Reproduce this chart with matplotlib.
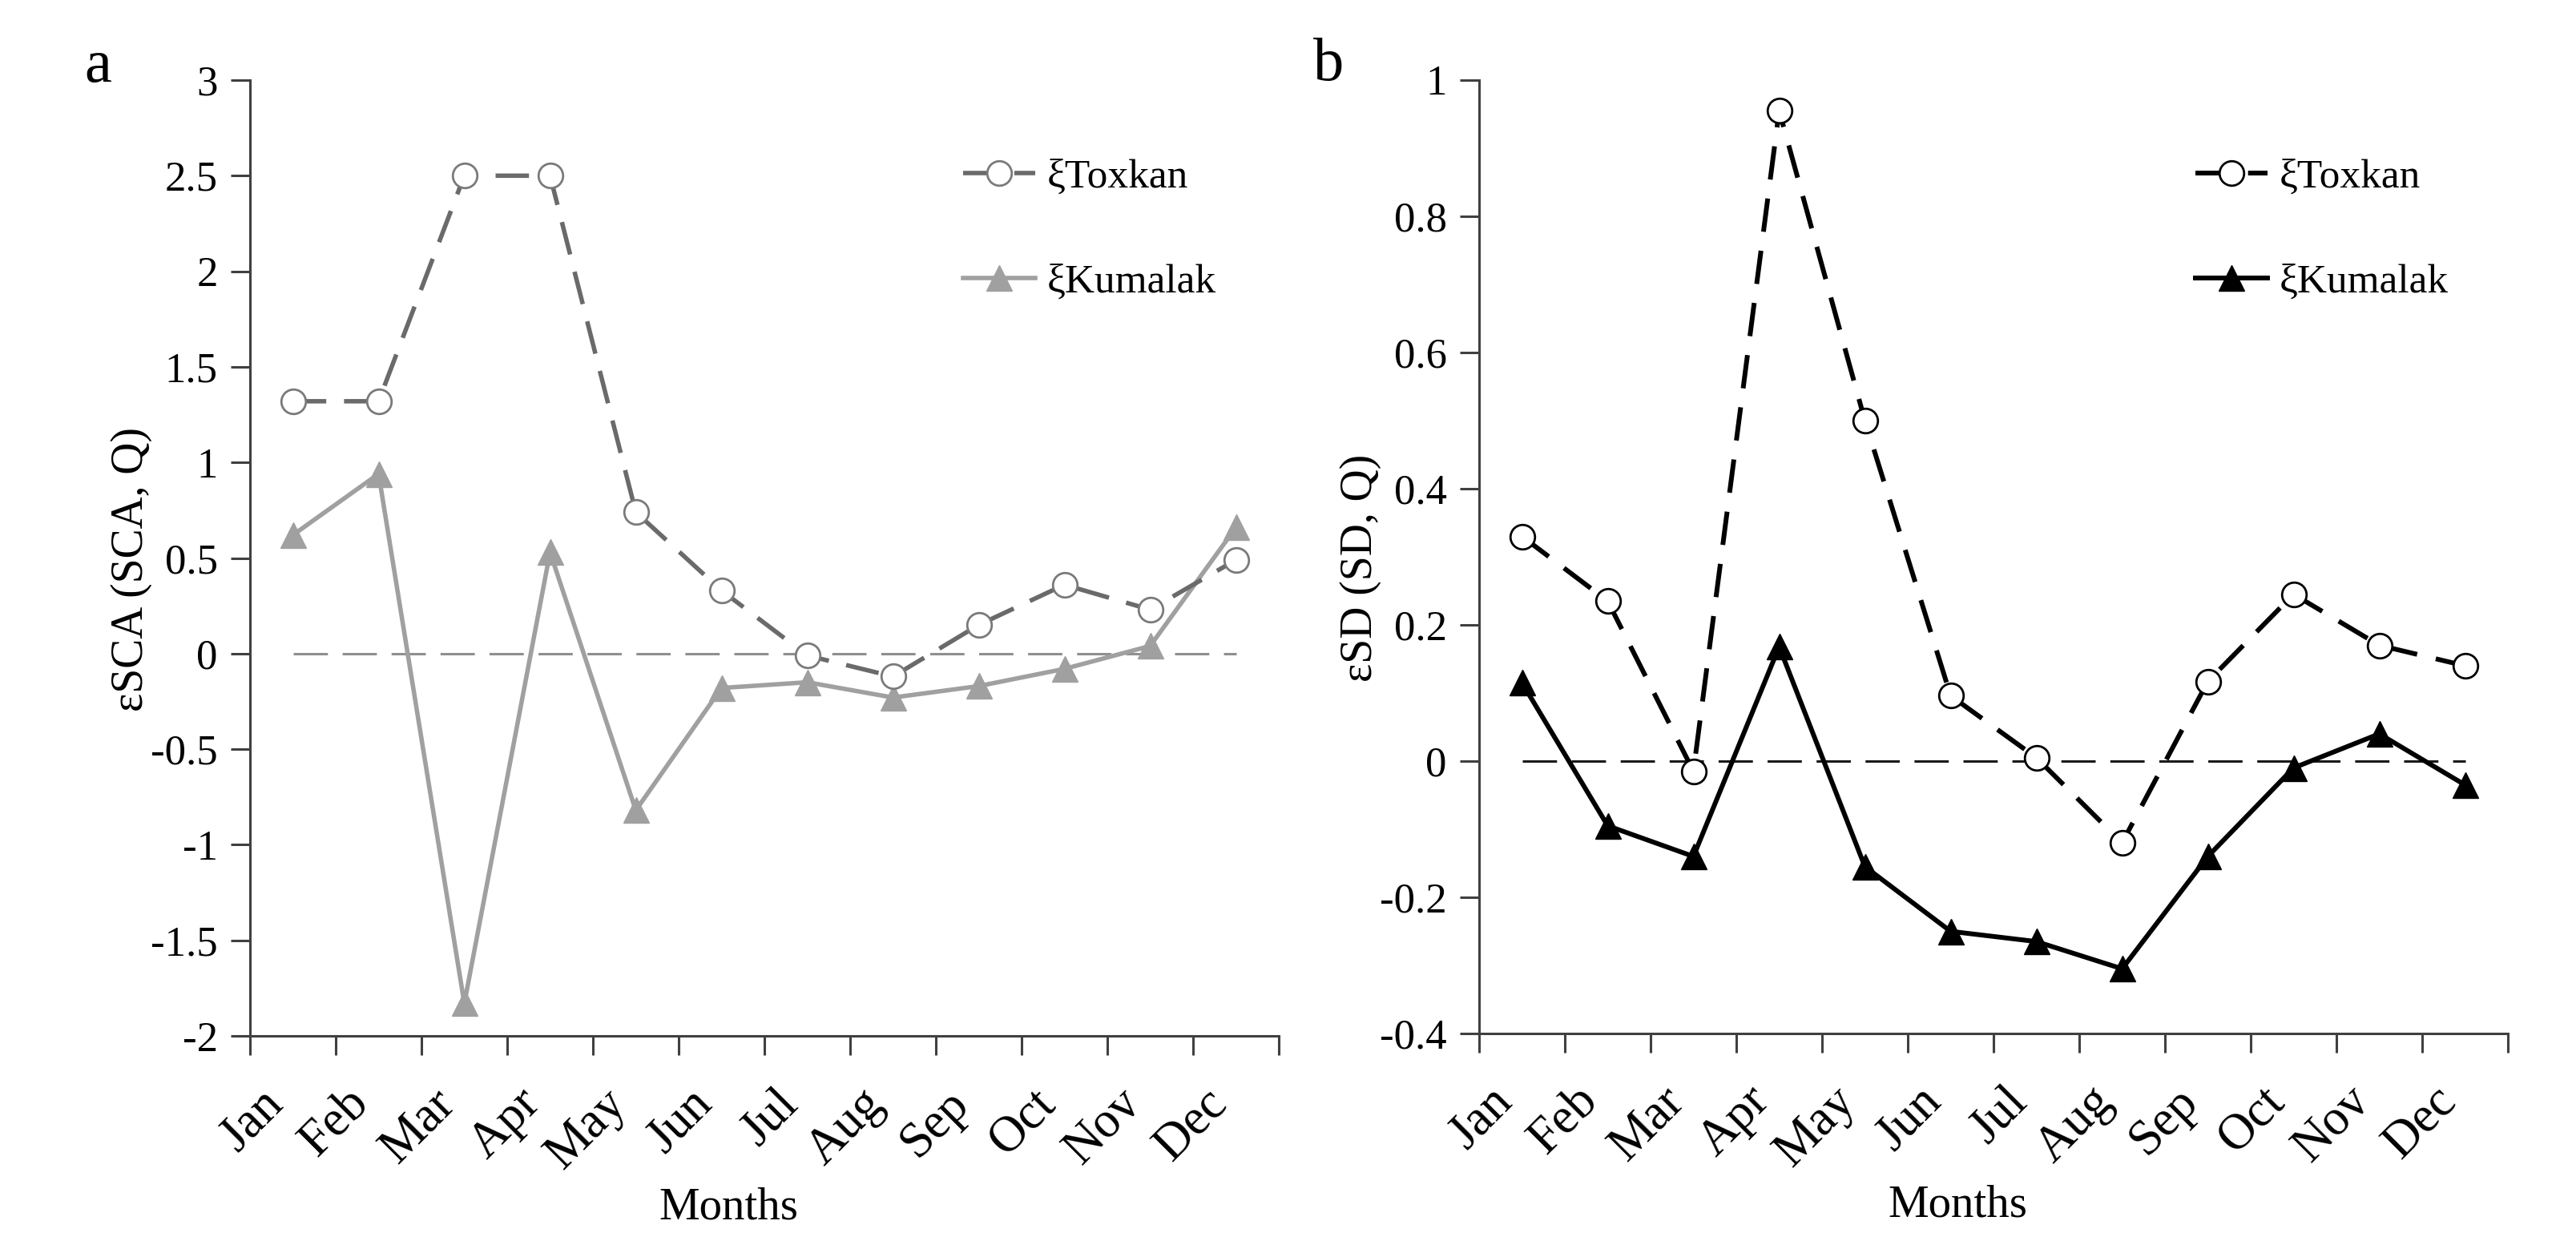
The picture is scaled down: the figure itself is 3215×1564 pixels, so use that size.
import matplotlib
matplotlib.use('Agg')
import matplotlib.pyplot as plt
import numpy as np

# ---------------- data ----------------
months = ['Jan', 'Feb', 'Mar', 'Apr', 'May', 'Jun', 'Jul', 'Aug', 'Sep', 'Oct', 'Nov', 'Dec']

sca_toxkan = [1.32, 1.32, 2.50, 2.50, 0.74, 0.33, -0.01, -0.12, 0.15, 0.36, 0.23, 0.49]
sca_kumalak = [0.62, 0.94, -1.83, 0.53, -0.82, -0.18, -0.15, -0.23, -0.17, -0.08, 0.04, 0.66]

sd_toxkan = [0.33, 0.235, -0.015, 0.955, 0.50, 0.096, 0.005, -0.12, 0.117, 0.245, 0.17, 0.14]
sd_kumalak = [0.115, -0.095, -0.14, 0.168, -0.155, -0.25, -0.265, -0.305, -0.14, -0.01, 0.04, -0.035]

yticks_a = [-2, -1.5, -1, -0.5, 0, 0.5, 1, 1.5, 2, 2.5, 3]
ylabels_a = ['-2', '-1.5', '-1', '-0.5', '0', '0.5', '1', '1.5', '2', '2.5', '3']
yticks_b = [-0.4, -0.2, 0, 0.2, 0.4, 0.6, 0.8, 1]
ylabels_b = ['-0.4', '-0.2', '0', '0.2', '0.4', '0.6', '0.8', '1']

series_names = ['\u03beToxkan', '\u03beKumalak']
ylabel_a = '\u03b5SCA (SCA, Q)'
ylabel_b = '\u03b5SD (SD, Q)'
xlabel = 'Months'

# ---------------- style ----------------
plt.rcParams['font.family'] = ['Liberation Serif', 'DejaVu Serif']

W, H = 3215, 1564
fig = plt.figure(figsize=(W / 100, H / 100), dpi=100)

spine_col = '#404040'
x = np.arange(1, len(months) + 1)

def setup(ax, yticks, ylabels, ylabel):
    for s in ['top', 'right']:
        ax.spines[s].set_visible(False)
    for s in ['left', 'bottom']:
        ax.spines[s].set_color(spine_col)
        ax.spines[s].set_linewidth(2.2)
    ax.set_xlim(0.5, len(months) + 0.5)
    ax.set_ylim(yticks[0], yticks[-1])
    ax.set_yticks(yticks)
    ax.set_yticklabels(ylabels)
    ax.tick_params(axis='y', direction='out', length=17, width=2.2, color=spine_col,
                   labelsize=38, pad=12)
    # boundaries as major ticks, months labelled at centres
    ax.set_xticks(np.arange(0.5, len(months) + 1.0, 1.0))
    ax.set_xticklabels([])
    ax.tick_params(axis='x', which='major', direction='out', length=17, width=2.2,
                   color=spine_col)
    ax.set_xticks(x, minor=True)
    ax.set_xticklabels(months, minor=True, rotation=45, ha='right', va='top',
                       rotation_mode='default')
    ax.tick_params(axis='x', which='minor', length=0, labelsize=45, pad=40)
    ax.set_ylabel(ylabel, fontsize=40)
    ax.yaxis.set_label_coords(-0.095, 0.488)
    ax.set_xlabel(xlabel, fontsize=41)
    ax.xaxis.set_label_coords(0.465, -0.158)
    ax.xaxis.label.set_va('top')

# ---------------- panel a ----------------
ax1 = fig.add_axes([312 / W, 1 - 1293 / H, 1284 / W, 1193 / H])
setup(ax1, yticks_a, ylabels_a, ylabel_a)
ax1.hlines(0, x[0], x[-1], colors='#8f8f8f', linewidth=2.2, linestyles=(0, (14, 6)), zorder=1)
ax1.plot(x, sca_toxkan, color='#6a6a6a', linewidth=4.0, linestyle=(0, (7.5, 4)),
         marker='o', markersize=22, markerfacecolor='white', markeredgecolor='#7a7a7a',
         markeredgewidth=2.0, label=series_names[0], zorder=3)
ax1.plot(x, sca_kumalak, color='#a0a0a0', linewidth=4.0, linestyle='-',
         marker='^', markersize=23, markerfacecolor='#a0a0a0', markeredgecolor='#a0a0a0',
         label=series_names[1], zorder=2)
leg1 = ax1.legend(loc='upper left', bbox_to_anchor=(0.693, 0.918), frameon=False,
                  fontsize=37, handlelength=1.75, handletextpad=0.3, labelspacing=1.64,
                  borderpad=0, borderaxespad=0, numpoints=1)

# ---------------- panel b ----------------
ax2 = fig.add_axes([1846 / W, 1 - 1290 / H, 1284 / W, 1190 / H])
setup(ax2, yticks_b, ylabels_b, ylabel_b)
ax2.hlines(0, x[0], x[-1], colors='#1a1a1a', linewidth=2.2, linestyles=(0, (14, 6)), zorder=1)
ax2.plot(x, sd_toxkan, color='black', linewidth=4.3, linestyle=(0, (7, 4)),
         marker='o', markersize=22, markerfacecolor='white', markeredgecolor='black',
         markeredgewidth=2.0, label=series_names[0], zorder=3)
ax2.plot(x, sd_kumalak, color='black', linewidth=4.3, linestyle='-',
         marker='^', markersize=23, markerfacecolor='black', markeredgecolor='black',
         label=series_names[1], zorder=2)
leg2 = ax2.legend(loc='upper left', bbox_to_anchor=(0.696, 0.918), frameon=False,
                  fontsize=37, handlelength=1.75, handletextpad=0.3, labelspacing=1.64,
                  borderpad=0, borderaxespad=0, numpoints=1)

# panel letters
fig.text(105 / W, 1 - 102 / H, 'a', fontsize=55, ha='left', va='baseline')
fig.text(1639 / W, 1 - 100 / H, 'b', fontsize=55, ha='left', va='baseline')

fig.savefig('out.png', dpi=100, facecolor='white')
